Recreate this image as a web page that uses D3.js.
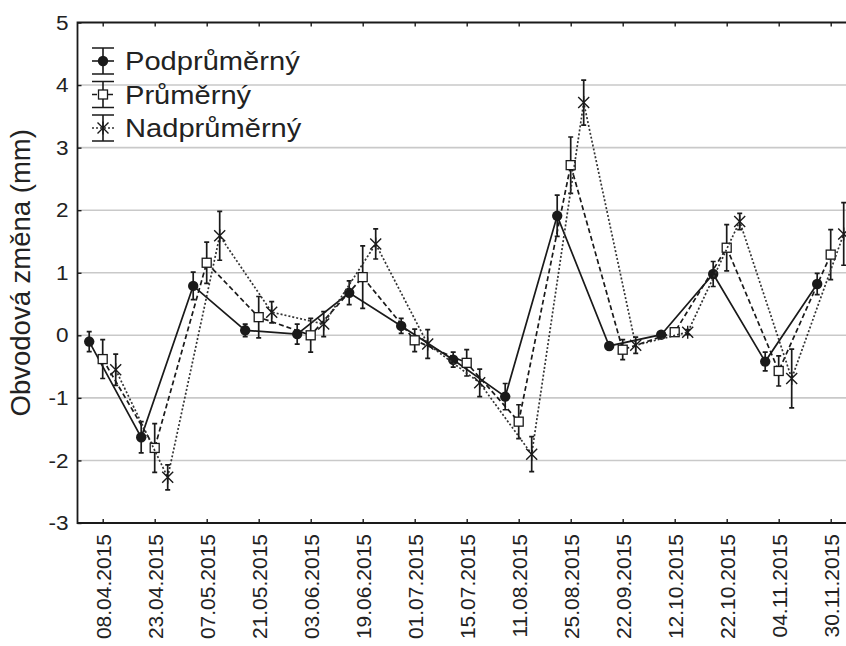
<!DOCTYPE html>
<html>
<head>
<meta charset="utf-8">
<script src="https://cdn.jsdelivr.net/npm/d3@7"></script>
<style>
  html, body { margin: 0; padding: 0; background: #fff; }
  svg { display: block; font-family: "Liberation Sans", Arial, sans-serif; }
</style>
</head>
<body>
<svg id="chart" width="846" height="646"></svg>
<script>
// Measurement dates (x categories)
const dates = ["08.04.2015", "23.04.2015", "07.05.2015", "21.05.2015", "03.06.2015",
  "19.06.2015", "01.07.2015", "15.07.2015", "11.08.2015", "25.08.2015",
  "22.09.2015", "12.10.2015", "22.10.2015", "04.11.2015", "30.11.2015"];

// Mean girth change (mm) and error half-widths per group
const podprumerny    = [-0.10, -1.63, 0.79, 0.08, 0.02, 0.68, 0.15, -0.39, -0.98, 1.91, -0.17, 0.01, 0.98, -0.42, 0.82];
const podprumernyErr = [0.16, 0.25, 0.22, 0.10, 0.16, 0.19, 0.12, 0.12, 0.21, 0.33, 0.05, 0.03, 0.20, 0.15, 0.17];
const prumerny       = [-0.38, -1.80, 1.16, 0.29, 0.00, 0.93, -0.08, -0.44, -1.38, 2.72, -0.23, 0.05, 1.40, -0.57, 1.29];
const prumernyErr    = [0.31, 0.39, 0.33, 0.33, 0.27, 0.50, 0.18, 0.21, 0.27, 0.45, 0.16, 0.05, 0.37, 0.24, 0.40];
const nadprumerny    = [-0.55, -2.27, 1.59, 0.37, 0.18, 1.46, -0.14, -0.76, -1.90, 3.72, -0.16, 0.05, 1.82, -0.69, 1.62];
const nadprumernyErr = [0.25, 0.20, 0.39, 0.17, 0.20, 0.24, 0.23, 0.22, 0.28, 0.36, 0.13, 0.04, 0.13, 0.47, 0.50];

const seriesNames = ["Podprůměrný", "Průměrný", "Nadprůměrný"];
const yTicks = [-3, -2, -1, 0, 1, 2, 3, 4, 5];
const yTitle = "Obvodová změna (mm)";

// Series assembled with their drawing styles
const series = [
  { name: seriesNames[0], values: podprumerny, errs: podprumernyErr, shift: -13.5, dash: null,  color: "#1a1a1a", marker: "circle" },
  { name: seriesNames[1], values: prumerny,    errs: prumernyErr,    shift: 0,     dash: "5,3", color: "#1a1a1a", marker: "square" },
  { name: seriesNames[2], values: nadprumerny, errs: nadprumernyErr, shift: 13,    dash: "2,2", color: "#333",    marker: "star" }
];

const svg = d3.select("#chart");
const plotLeft = 77.5, plotTop = 22.5, plotBottom = 523, plotRight = 856;

const x = d3.scalePoint().domain(dates).range([102.7, 830.7]);
const y = d3.scaleLinear().domain([-3, 5]).range([plotBottom, plotTop]);

// Horizontal gridlines
svg.append("g").selectAll("line")
  .data(yTicks.filter(t => t > -3 && t < 5))
  .join("line")
  .attr("x1", plotLeft).attr("x2", plotRight)
  .attr("y1", d => y(d)).attr("y2", d => y(d))
  .attr("stroke", "#c9c9c9").attr("stroke-width", 1.6);

// Axes (ticks drawn inward)
const axisColor = "#1a1a1a";
const yAxis = svg.append("g").attr("transform", `translate(${plotLeft},0)`)
  .call(d3.axisLeft(y).tickValues(yTicks).tickFormat(d => String(d))
    .tickSizeInner(-4).tickSizeOuter(0).tickPadding(9));
const xAxis = svg.append("g").attr("transform", `translate(0,${plotBottom})`)
  .call(d3.axisBottom(x).tickSizeInner(-4).tickSizeOuter(0));
const xTop = svg.append("g").attr("transform", `translate(0,${plotTop})`)
  .call(d3.axisTop(x).tickSizeInner(-4).tickSizeOuter(0).tickFormat(""));

[yAxis, xAxis, xTop].forEach(g => {
  g.select(".domain").remove();
  g.selectAll(".tick line").attr("stroke", axisColor).attr("stroke-width", 1.4);
});
yAxis.selectAll(".tick text").attr("font-size", 20.5).attr("fill", "#222")
  .attr("font-family", "Liberation Sans, Arial, sans-serif")
  .attr("transform", "scale(1.1,1)")
  .attr("x", -9 / 1.1);
xAxis.selectAll(".tick text")
  .attr("font-size", 21).attr("fill", "#222")
  .attr("font-family", "Liberation Sans, Arial, sans-serif")
  .attr("text-anchor", "end")
  .attr("dy", "0.35em")
  .attr("transform", "rotate(-90)")
  .attr("x", -11).attr("y", 0);

// Frame lines: left, top, bottom
svg.append("path")
  .attr("d", `M${plotRight},${plotTop}H${plotLeft}V${plotBottom}H${plotRight}`)
  .attr("fill", "none").attr("stroke", axisColor).attr("stroke-width", 1.8);

// Y axis title
svg.append("text")
  .attr("transform", `translate(30,${(plotTop + plotBottom) / 2}) rotate(-90)`)
  .attr("text-anchor", "middle")
  .attr("font-size", 27.5).attr("fill", "#222")
  .text(yTitle);

// Marker drawing: filled circle, open square, six-armed asterisk
function drawMarker(g, type, cx, cy, color) {
  if (type === "circle") {
    g.append("circle").attr("cx", cx).attr("cy", cy).attr("r", 5.2).attr("fill", color);
  } else if (type === "square") {
    g.append("rect").attr("x", cx - 4.5).attr("y", cy - 4.5).attr("width", 9).attr("height", 9)
      .attr("fill", "#fff").attr("stroke", color).attr("stroke-width", 1.3);
  } else {
    const r = 5.5;
    g.append("path")
      .attr("d", `M${cx - r},${cy - r}L${cx + r},${cy + r}M${cx - r},${cy + r}L${cx + r},${cy - r}M${cx},${cy - r - 1}V${cy + r + 1}`)
      .attr("stroke", color).attr("stroke-width", 1.4).attr("fill", "none");
  }
}

// Lines, error bars and markers per series
series.forEach(s => {
  const g = svg.append("g");
  const pts = s.values.map((v, i) => ({ cx: x(dates[i]) + s.shift, v, e: s.errs[i] }));
  g.append("path")
    .datum(pts)
    .attr("d", d3.line().x(d => d.cx).y(d => y(d.v)))
    .attr("fill", "none").attr("stroke", s.color).attr("stroke-width", 1.7)
    .attr("stroke-dasharray", s.dash);
  pts.forEach(p => {
    const y1 = y(p.v + p.e), y2 = y(p.v - p.e);
    g.append("path")
      .attr("d", `M${p.cx},${y1}V${y2}M${p.cx - 2.5},${y1}H${p.cx + 2.5}M${p.cx - 2.5},${y2}H${p.cx + 2.5}`)
      .attr("stroke", "#1a1a1a").attr("stroke-width", 1.7).attr("fill", "none");
  });
  pts.forEach(p => drawMarker(g, s.marker, p.cx, y(p.v), "#1a1a1a"));
});

// Legend
const legend = svg.append("g");
series.forEach((s, i) => {
  const cy = 61 + i * 33.5, cx = 103;
  const g = legend.append("g");
  g.append("path")
    .attr("d", `M${cx},${cy - 13}V${cy + 13}M${cx - 11},${cy - 13}H${cx + 11}M${cx - 11},${cy + 13}H${cx + 11}`)
    .attr("stroke", "#1a1a1a").attr("stroke-width", 1.6).attr("fill", "none");
  g.append("line").attr("x1", cx - 11).attr("x2", cx + 11).attr("y1", cy).attr("y2", cy)
    .attr("stroke", s.color).attr("stroke-width", 1.6).attr("stroke-dasharray", s.dash);
  drawMarker(g, s.marker, cx, cy, "#1a1a1a");
  g.append("text")
    .attr("transform", `translate(125,${cy + 9}) scale(1.12,1)`)
    .attr("font-size", 26).attr("fill", "#222").text(s.name);
});
</script>
</body>
</html>
